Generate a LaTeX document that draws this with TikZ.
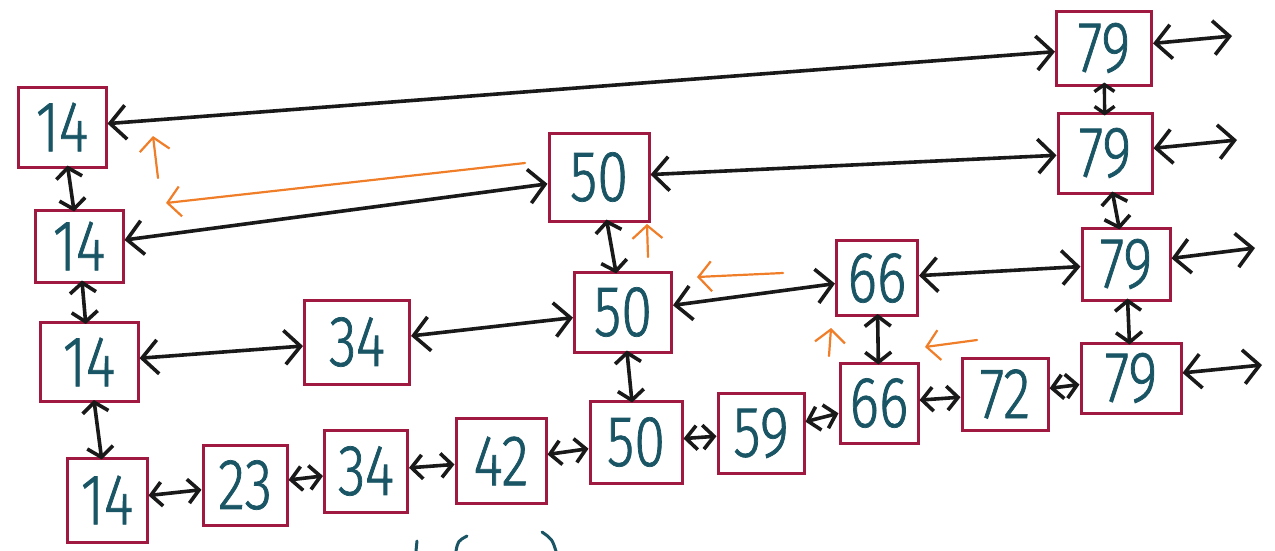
\documentclass[tikz,border=0pt]{standalone}
\usepackage{fontspec}
\newfontfamily\hand[FakeStretch=0.78,FakeBold=1]{Fira Sans Light}
\usetikzlibrary{arrows.meta}
\definecolor{boxc}{RGB}{160,25,65}
\definecolor{numc}{RGB}{25,85,100}
\definecolor{pathc}{RGB}{240,125,40}
\definecolor{linec}{RGB}{25,25,25}
\begin{document}
\begin{tikzpicture}[x=1pt,y=-1pt,
  box/.style={draw=boxc, line width=3pt, inner sep=0pt, text=numc,
    font=\hand\fontsize{72}{72}\selectfont},
  link/.style={draw=linec, line width=3.6pt, line cap=round,
    {Straight Barb[length=16pt,width=34pt]}-{Straight Barb[length=16pt,width=34pt]}},
  slink/.style={draw=linec, line width=3.6pt, line cap=round,
    {Straight Barb[length=11pt,width=24pt]}-{Straight Barb[length=11pt,width=24pt]}},
  vlink/.style={draw=linec, line width=3.6pt, line cap=round,
    shorten <=-3pt, shorten >=-3pt,
    {Straight Barb[length=10pt,width=26pt]}-{Straight Barb[length=10pt,width=26pt]}},
  svlink/.style={draw=linec, line width=3.4pt, line cap=round,
    shorten <=-4pt, shorten >=-4pt,
    {Straight Barb[length=7pt,width=20pt]}-{Straight Barb[length=7pt,width=20pt]}},
  search/.style={draw=pathc, line width=2.2pt, line cap=round,
    -{Straight Barb[length=13pt,width=30pt]}},
  stroke/.style={draw=numc, line width=3pt, line cap=round}
]
\useasboundingbox (0,0) rectangle (1275,550);

% level 4
\node[box, minimum width=88pt, minimum height=80pt] (a14) at (62,127) {14};
\node[box, minimum width=95pt, minimum height=74pt] (t79) at (1104,48) {79};
% level 3
\node[box, minimum width=88pt, minimum height=72pt] (b14) at (79,246) {14};
\node[box, minimum width=100pt, minimum height=88pt] (t50) at (599,177) {50};
\node[box, minimum width=94pt, minimum height=80pt] (s79) at (1105,153) {79};
% level 2
\node[box, minimum width=98pt, minimum height=79pt] (c14) at (89,362) {14};
\node[box, minimum width=105pt, minimum height=84pt] (c34) at (357,342) {34};
\node[box, minimum width=97pt, minimum height=80pt] (c50) at (623,312) {50};
\node[box, minimum width=81pt, minimum height=75pt] (c66) at (877,278) {66};
\node[box, minimum width=88pt, minimum height=72pt] (c79) at (1126,264) {79};
% level 1
\node[box, minimum width=80pt, minimum height=84pt] (d14) at (107,500) {14};
\node[box, minimum width=84pt, minimum height=80pt] (d23) at (245,485) {23};
\node[box, minimum width=83pt, minimum height=82pt] (d34) at (366,471) {34};
\node[box, minimum width=90pt, minimum height=85pt] (d42) at (501,461) {42};
\node[box, minimum width=92pt, minimum height=82pt] (d50) at (636,442) {50};
\node[box, minimum width=86pt, minimum height=80pt] (d59) at (761,433) {59};
\node[box, minimum width=78pt, minimum height=80pt] (d66) at (879,403) {66};
\node[box, minimum width=86pt, minimum height=72pt] (d72) at (1005,394) {72};
\node[box, minimum width=100pt, minimum height=70pt] (d79) at (1131,378) {79};

% free ends on the right
\coordinate (e1) at (1232,36);
\coordinate (e2) at (1237,140);
\coordinate (e3) at (1255,248);
\coordinate (e4) at (1262,365);

% horizontal links
\draw[link] (a14) -- (t79);
\draw[link] (b14) -- (t50);
\draw[link] (t50) -- (s79);
\draw[link] (c14) -- (c34);
\draw[link] (c34) -- (c50);
\draw[link] (c50) -- (c66);
\draw[link] (c66) -- (c79);
\draw[slink] (d14) -- (d23);
\draw[slink] (d23) -- (d34);
\draw[slink] (d34) -- (d42);
\draw[slink] (d42) -- (d50);
\draw[slink] (d50) -- (d59);
\draw[slink] (d59) -- (d66);
\draw[slink] (d66) -- (d72);
\draw[slink] (d72) -- (d79);
\draw[link] (t79) -- (e1);
\draw[link] (s79) -- (e2);
\draw[link] (c79) -- (e3);
\draw[link] (d79) -- (e4);

% vertical links
\draw[vlink] (a14) -- (b14);
\draw[vlink] (b14) -- (c14);
\draw[vlink] (c14) -- (d14);
\draw[vlink] (t50) -- (c50);
\draw[vlink] (c50) -- (d50);
\draw[vlink] (c66) -- (d66);
\draw[svlink] (t79) -- (s79);
\draw[vlink] (s79) -- (c79);
\draw[vlink] (c79) -- (d79);

% search path (orange)
\coordinate (p1a) at (525,163);
\coordinate (p1b) at (166,203);
\coordinate (p2a) at (158,178);
\coordinate (p2b) at (153,136);
\coordinate (p3a) at (648,257);
\coordinate (p3b) at (647,224);
\coordinate (p4a) at (783,273);
\coordinate (p4b) at (697,277);
\coordinate (p5a) at (829,356);
\coordinate (p5b) at (831,328);
\coordinate (p6a) at (977,340);
\coordinate (p6b) at (925,347);
\draw[search] (p1a) -- (p1b);
\draw[search] (p2a) -- (p2b);
\draw[search] (p3a) -- (p3b);
\draw[search] (p4a) -- (p4b);
\draw[search] (p5a) -- (p5b);
\draw[search] (p6a) -- (p6b);

% cut-off strokes at the bottom edge
\draw[stroke] (417,541) -- (416,551);
\draw[stroke] (467,536) .. controls (458,541) .. (456,551);
\draw[stroke] (542,532) .. controls (552,539) .. (556,551);
\end{tikzpicture}
\end{document}
